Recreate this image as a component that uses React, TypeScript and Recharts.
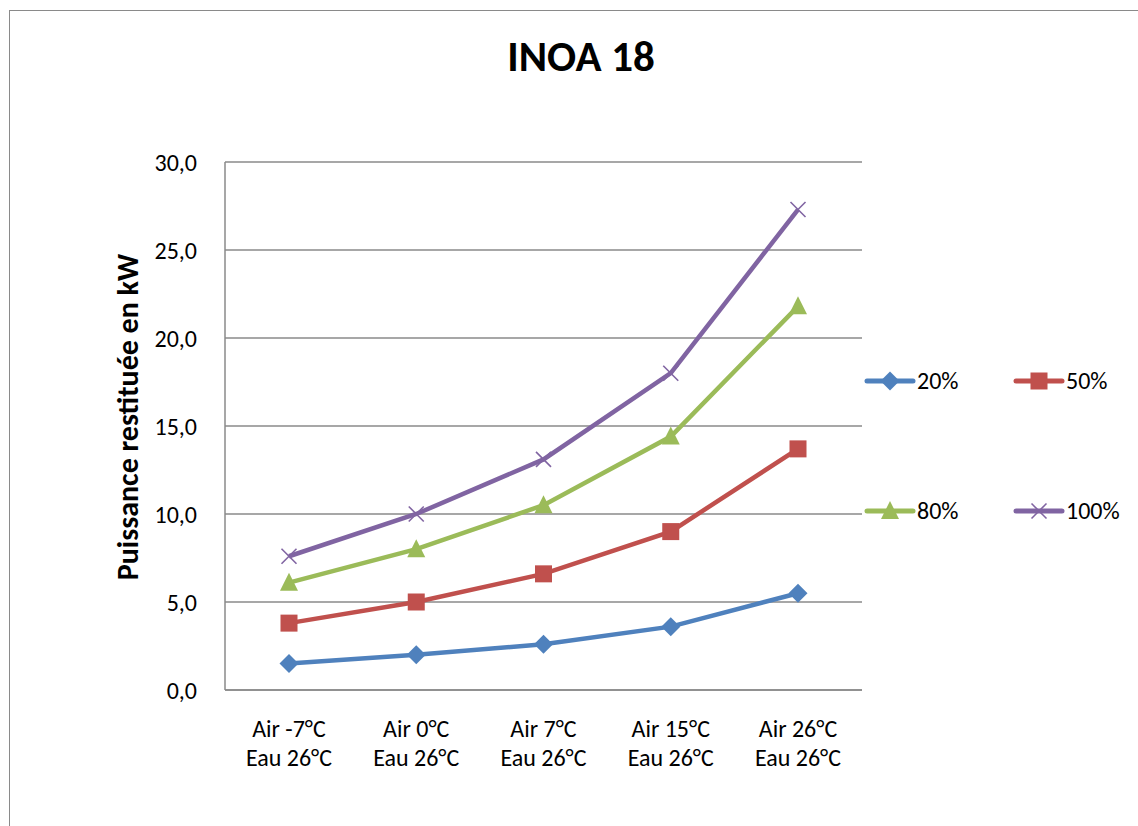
import { LineChart, Line, XAxis, YAxis, CartesianGrid } from 'recharts'

const airTemps = ['Air -7°C', 'Air 0°C', 'Air 7°C', 'Air 15°C', 'Air 26°C']
const waterTemps = ['Eau 26°C', 'Eau 26°C', 'Eau 26°C', 'Eau 26°C', 'Eau 26°C']
const p20 = [1.5, 2.0, 2.6, 3.6, 5.5]
const p50 = [3.8, 5.0, 6.6, 9.0, 13.7]
const p80 = [6.1, 8.0, 10.5, 14.4, 21.8]
const p100 = [7.6, 10.0, 13.1, 18.0, 27.3]
const yTicks = [0, 5, 10, 15, 20, 25, 30]

const FONT = 'Carlito, Lato, "Open Sans", sans-serif'
const GRID = '#8a8a8a'

const SERIES = [
  { key: 'p20', name: '20%', color: '#4F81BD', shape: 'diamond' },
  { key: 'p50', name: '50%', color: '#C0504D', shape: 'square' },
  { key: 'p80', name: '80%', color: '#9BBB59', shape: 'triangle' },
  { key: 'p100', name: '100%', color: '#8064A2', shape: 'cross' },
]

const data = airTemps.map((air, i) => ({
  air,
  p20: p20[i],
  p50: p50[i],
  p80: p80[i],
  p100: p100[i],
}))

function Marker({ cx, cy, shape, color }: { cx: number; cy: number; shape: string; color: string }) {
  if (shape === 'diamond') {
    const r = 9.5
    return <path d={`M${cx},${cy - r}L${cx + r},${cy}L${cx},${cy + r}L${cx - r},${cy}Z`} fill={color} />
  }
  if (shape === 'square') {
    const r = 8.5
    return <rect x={cx - r} y={cy - r} width={r * 2} height={r * 2} fill={color} />
  }
  if (shape === 'triangle') {
    const r = 9
    return <path d={`M${cx},${cy - r - 1}L${cx + r},${cy + r - 1}L${cx - r},${cy + r - 1}Z`} fill={color} />
  }
  const r = 7.5
  return (
    <g stroke={color} strokeWidth={1.6}>
      <line x1={cx - r} y1={cy - r} x2={cx + r} y2={cy + r} />
      <line x1={cx - r} y1={cy + r} x2={cx + r} y2={cy - r} />
    </g>
  )
}

function XTick({ x, y, payload, index }: any) {
  return (
    <text x={x} textAnchor="middle" fontFamily={FONT} fontSize={24} fill="#000">
      <tspan x={x} y={y + 39}>{payload.value}</tspan>
      <tspan x={x} y={y + 68}>{waterTemps[index]}</tspan>
    </text>
  )
}

function LegendBox() {
  const cells = [
    { s: SERIES[0], x: 2, y: 21 },
    { s: SERIES[1], x: 151, y: 21 },
    { s: SERIES[2], x: 2, y: 151 },
    { s: SERIES[3], x: 151, y: 151 },
  ]
  return (
    <svg width={276} height={180} style={{ display: 'block' }}>
      {cells.map(({ s, x, y }) => (
        <g key={s.key}>
          <line x1={x + 3} y1={y} x2={x + 49} y2={y} stroke={s.color} strokeWidth={5} strokeLinecap="round" />
          <Marker cx={x + 26} cy={y} shape={s.shape} color={s.color} />
          <text x={x + 53} y={y + 8} fontFamily={FONT} fontSize={24} fill="#000">
            {s.name}
          </text>
        </g>
      ))}
    </svg>
  )
}

export default function App() {
  return (
    <div style={{ position: 'absolute', left: 0, top: 0, width: 1138, height: 826, overflow: 'hidden', background: '#fff' }}>
      <div
        style={{
          position: 'absolute',
          left: 9,
          top: 10,
          width: 1300,
          height: 1000,
          border: `1.5px solid ${GRID}`,
        }}
      />
      <div
        style={{
          position: 'absolute',
          left: 0,
          width: 1162,
          top: 31,
          textAlign: 'center',
          fontFamily: FONT,
          fontSize: 43,
          fontWeight: 'bold',
          lineHeight: '52px',
          color: '#000',
        }}
      >
        INOA 18
      </div>
      <div
        style={{
          position: 'absolute',
          left: 128,
          top: 417,
          transform: 'translate(-50%, -50%) rotate(-90deg)',
          whiteSpace: 'nowrap',
          fontFamily: FONT,
          fontSize: 30,
          fontWeight: 'bold',
          lineHeight: '36px',
          color: '#000',
        }}
      >
        Puissance restituée en kW
      </div>
      <div style={{ position: 'absolute', left: 862, top: 360 }}>
        <LegendBox />
      </div>
      <div style={{ position: 'absolute', left: 0, top: 0 }}>
        <LineChart width={1138} height={826} data={data} margin={{ top: 162, right: 276, bottom: 0, left: 0 }}>
          <CartesianGrid vertical={false} stroke={GRID} strokeWidth={1.5} />
          <XAxis
            dataKey="air"
            height={136}
            padding={{ left: 64, right: 64 }}
            axisLine={{ stroke: GRID, strokeWidth: 1.5 }}
            tickLine={false}
            tick={<XTick />}
            interval={0}
          />
          <YAxis
            width={225}
            domain={[0, 30]}
            ticks={yTicks}
            interval={0}
            axisLine={{ stroke: GRID, strokeWidth: 1.5 }}
            tickLine={false}
            tickSize={0}
            tickMargin={28}
            tick={{ fontFamily: FONT, fontSize: 24, fill: '#000' }}
            tickFormatter={(v: number) => v.toFixed(1).replace('.', ',')}
          />
          {SERIES.map(s => (
            <Line
              key={s.key}
              type="linear"
              dataKey={s.key}
              name={s.name}
              stroke={s.color}
              strokeWidth={4.5}
              isAnimationActive={false}
              dot={(p: any) => <Marker key={`${s.key}-${p.index}`} cx={p.cx} cy={p.cy} shape={s.shape} color={s.color} />}
              activeDot={false}
            />
          ))}
        </LineChart>
      </div>
    </div>
  )
}
